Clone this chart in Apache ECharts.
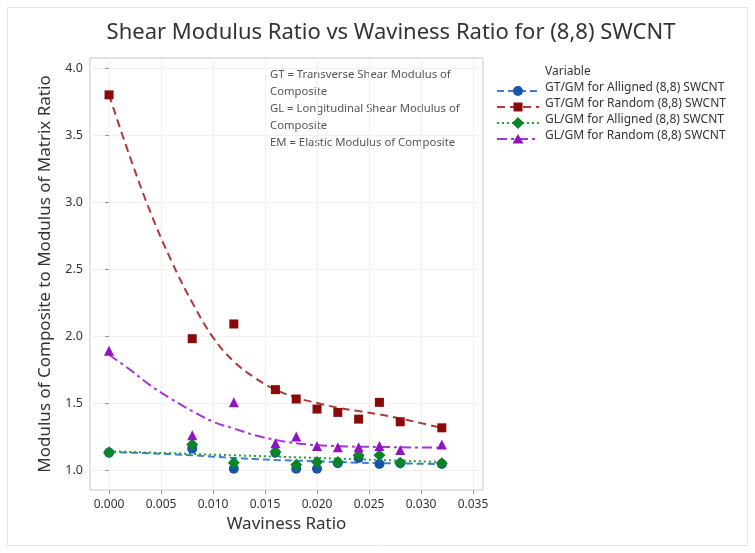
<!DOCTYPE html>
<html>
<head>
<meta charset="utf-8">
<script src="https://cdn.jsdelivr.net/npm/echarts@6/dist/echarts.min.js"></script>
<style>
  html, body { margin: 0; padding: 0; background: #ffffff; }
  #chart { width: 755px; height: 553px; }
</style>
</head>
<body>
<div id="chart"></div>
<script>
// Measured waviness ratios and modulus ratios for the (8,8) SWCNT composites
const waviness = [0, 0.008, 0.012, 0.016, 0.018, 0.020, 0.022, 0.024, 0.026, 0.028, 0.032];
const gtAligned = [1.13, 1.16, 1.01, 1.13, 1.01, 1.01, 1.05, 1.09, 1.045, 1.05, 1.045];
const gtRandom  = [3.80, 1.98, 2.09, 1.60, 1.53, 1.455, 1.43, 1.38, 1.505, 1.36, 1.315];
const glAligned = [1.13, 1.19, 1.055, 1.135, 1.04, 1.06, 1.06, 1.11, 1.11, 1.055, 1.05];
const glRandom  = [1.89, 1.26, 1.505, 1.20, 1.25, 1.18, 1.17, 1.17, 1.18, 1.15, 1.19];

// Fitted trend curves sampled along the waviness range
const fitX = [0, 0.002, 0.004, 0.006, 0.008, 0.010, 0.012, 0.014, 0.016, 0.018, 0.020, 0.022, 0.024, 0.026, 0.028, 0.030, 0.032];
const gtAlignedFit = [1.135, 1.13, 1.125, 1.118, 1.11, 1.10, 1.09, 1.082, 1.075, 1.07, 1.065, 1.06, 1.055, 1.052, 1.05, 1.047, 1.045];
const gtRandomFit  = [3.80, 3.34, 2.92, 2.56, 2.25, 1.99, 1.81, 1.69, 1.60, 1.54, 1.50, 1.465, 1.44, 1.415, 1.385, 1.35, 1.315];
const glAlignedFit = [1.14, 1.135, 1.13, 1.125, 1.12, 1.115, 1.11, 1.105, 1.10, 1.095, 1.09, 1.085, 1.08, 1.075, 1.07, 1.065, 1.06];
const glRandomFit  = [1.86, 1.75, 1.63, 1.53, 1.44, 1.36, 1.31, 1.26, 1.225, 1.20, 1.185, 1.178, 1.174, 1.172, 1.170, 1.168, 1.167];

const xTicks = [0, 0.005, 0.010, 0.015, 0.020, 0.025, 0.030, 0.035];
const yTicks = [1.0, 1.5, 2.0, 2.5, 3.0, 3.5, 4.0];

const seriesNames = [
  'GT/GM for Alligned (8,8) SWCNT',
  'GT/GM for Random (8,8) SWCNT',
  'GL/GM for Alligned (8,8) SWCNT',
  'GL/GM for Random (8,8) SWCNT'
];
const noteLines = [
  'GT = Transverse Shear Modulus of',
  'Composite',
  'GL = Longitudinal Shear Modulus of',
  'Composite',
  'EM = Elastic Modulus of Composite'
];

const FONT = '"Noto Sans", "Open Sans", sans-serif';
const DIAMOND = 'path://M0,-1L1,0L0,1L-1,0Z';

const styles = [
  { marker: '#1656a8', line: '#3d7fcf', symbol: 'circle', size: 10, dash: [7, 4] },
  { marker: '#8a0a0a', line: '#b03838', symbol: 'rect', size: 9, dash: [8, 5] },
  { marker: '#0b8428', line: '#27a03d', symbol: DIAMOND, size: 12, dash: [2, 3] },
  { marker: '#9312c4', line: '#a635d6', symbol: 'triangle', size: 10, dash: [10, 4, 3, 4] }
];
const pointSets = [gtAligned, gtRandom, glAligned, glRandom];
const fitSets = [gtAlignedFit, gtRandomFit, glAlignedFit, glRandomFit];

const pair = (xs, ys) => xs.map((x, i) => [x, ys[i]]);

const series = [];
fitSets.forEach((fit, i) => {
  series.push({
    name: seriesNames[i] + ' fit',
    type: 'line',
    data: pair(fitX, fit),
    smooth: 0.4,
    showSymbol: false,
    symbol: 'none',
    silent: true,
    z: 2,
    lineStyle: { color: styles[i].line, width: 2, type: styles[i].dash }
  });
});
pointSets.forEach((pts, i) => {
  series.push({
    name: seriesNames[i],
    type: 'scatter',
    data: pair(waviness, pts),
    symbol: styles[i].symbol,
    symbolSize: styles[i].size,
    z: 3,
    itemStyle: { color: styles[i].marker, opacity: 1 }
  });
});

// Legend drawn as line + marker samples beside the plot
const legendGraphics = [{
  type: 'text', left: 545, top: 66,
  style: { text: 'Variable', font: '12px ' + FONT, fill: '#333' }
}];
seriesNames.forEach((name, i) => {
  const cy = 91 + i * 16;
  const st = styles[i];
  legendGraphics.push({
    type: 'line',
    shape: { x1: 497, y1: cy, x2: 539, y2: cy },
    style: { stroke: st.line, lineWidth: 2, lineDash: st.dash }
  });
  let marker;
  if (st.symbol === 'circle') {
    marker = { type: 'circle', shape: { cx: 518, cy: cy, r: 5 } };
  } else if (st.symbol === 'rect') {
    marker = { type: 'rect', shape: { x: 513.5, y: cy - 4.5, width: 9, height: 9 } };
  } else if (st.symbol === 'triangle') {
    marker = { type: 'polygon', shape: { points: [[518, cy - 5], [523.5, cy + 4.5], [512.5, cy + 4.5]] } };
  } else {
    marker = { type: 'polygon', shape: { points: [[518, cy - 6], [524, cy], [518, cy + 6], [512, cy]] } };
  }
  marker.style = { fill: st.marker };
  legendGraphics.push(marker);
  legendGraphics.push({
    type: 'text', left: 545, top: cy - 9,
    style: { text: name, font: '12px ' + FONT, fill: '#333' }
  });
});

const noteGraphics = noteLines.map((t, i) => ({
  type: 'text', left: 270, top: 69 + i * 17,
  style: { text: t, font: '11.3px ' + FONT, fill: '#555' }
}));

const chart = echarts.init(document.getElementById('chart'), null, { renderer: 'canvas' });
chart.setOption({
  backgroundColor: '#ffffff',
  animation: false,
  title: {
    text: 'Shear Modulus Ratio vs Waviness Ratio for (8,8) SWCNT',
    left: 386,
    textAlign: 'center',
    top: 17,
    textStyle: { fontFamily: FONT, fontSize: 22, fontWeight: 'normal', color: '#333' }
  },
  grid: {
    left: 90, top: 58, right: 272, bottom: 63,
    show: true, borderColor: '#c9c9c9', borderWidth: 1, backgroundColor: 'transparent'
  },
  xAxis: {
    type: 'value',
    min: -0.00183,
    max: 0.03596,
    name: 'Waviness Ratio',
    nameLocation: 'middle',
    nameGap: 26,
    nameTextStyle: { fontFamily: FONT, fontSize: 17, color: '#333' },
    axisLine: { show: false },
    axisTick: { show: true, customValues: xTicks, length: 4, lineStyle: { color: '#999' } },
    axisLabel: {
      customValues: xTicks,
      formatter: v => v.toFixed(3),
      fontFamily: FONT, fontSize: 12, color: '#333', margin: 9
    },
    splitLine: { show: true, lineStyle: { color: '#f0f0f0', width: 1 } }
  },
  yAxis: {
    type: 'value',
    min: 0.851,
    max: 4.075,
    name: 'Modulus of Composite to Modulus of Matrix Ratio',
    nameLocation: 'middle',
    nameGap: 36,
    nameTextStyle: { fontFamily: FONT, fontSize: 17, color: '#333' },
    axisLine: { show: false },
    axisTick: { show: true, customValues: yTicks, length: 4, lineStyle: { color: '#999' } },
    axisLabel: {
      customValues: yTicks,
      formatter: v => v.toFixed(1),
      fontFamily: FONT, fontSize: 12.5, color: '#333', margin: 7
    },
    splitLine: { show: true, lineStyle: { color: '#f0f0f0', width: 1 } }
  },
  graphic: [
    {
      type: 'rect', silent: true, z: -10,
      shape: { x: 7.5, y: 7.5, width: 740, height: 538 },
      style: { fill: 'none', stroke: '#e3e3e3', lineWidth: 1 }
    }
  ].concat(noteGraphics, legendGraphics),
  series: series
});
</script>
</body>
</html>
